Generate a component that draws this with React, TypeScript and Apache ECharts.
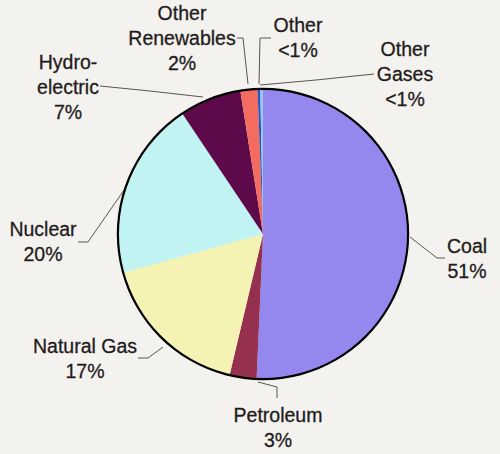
import React, { useEffect, useRef } from "react";
import * as echarts from "echarts";

// ---- data ----
const categories = [
  "Coal",
  "Petroleum",
  "Natural Gas",
  "Nuclear",
  "Hydro-\nelectric",
  "Other\nRenewables",
  "Other",
  "Other\nGases",
];
const shares = [50.7, 3.0, 17.0, 19.9, 6.9, 1.9, 0.3, 0.3];
const shareLabels = ["51%", "3%", "17%", "20%", "7%", "2%", "<1%", "<1%"];

// ---- styles / layout ----
const colors = [
  "#9487EE",
  "#96304F",
  "#F5F3B3",
  "#C0F3F1",
  "#5E0A4A",
  "#F46B5F",
  "#2456B8",
  "#9EC3F0",
];
const CENTER = [263, 234];
const R = 145;
const labelCenters = [
  [467, 258],
  [278, 427],
  [85, 358],
  [43, 241],
  [68, 87],
  [182, 38],
  [298, 37],
  [405, 74],
];
const linePoints = [
  [[410, 237], [437, 258], [445, 258]],
  [[258, 382], [277, 387], [277, 398]],
  [[163, 347], [148, 358], [138, 358]],
  [[124, 190], [88, 242], [78, 242]],
  [[203, 97], [150, 91], [100, 86]],
  [[248, 84], [243, 38], [237, 38]],
  [[259, 84], [260, 38], [271, 38]],
  [[260, 85], [316, 80], [374, 74]],
];

export default function App() {
  const ref = useRef<HTMLDivElement>(null);
  useEffect(() => {
    document.body.style.margin = "0";
    const chart = echarts.init(ref.current!, null, { renderer: "svg" });
    chart.setOption({
      animation: false,
      backgroundColor: "#F4F2EF",
      series: [
        {
          type: "pie",
          center: CENTER,
          radius: R,
          startAngle: 90,
          clockwise: true,
          avoidLabelOverlap: false,
          data: categories.map((c, i) => ({
            name: c,
            value: shares[i],
            itemStyle: { color: colors[i] },
          })),
          itemStyle: { borderWidth: 0 },
          label: {
            show: true,
            position: "outer",
            alignTo: "none",
            formatter: (p: any) => `${p.name}\n${shareLabels[p.dataIndex]}`,
            fontFamily: "Arial, 'Liberation Sans', sans-serif",
            fontSize: 19.5,
            lineHeight: 25,
            color: "#1F1C1B",
            textBorderColor: "#1F1C1B",
            textBorderWidth: 0.3,
            align: "center",
          },
          labelLine: {
            show: true,
            length: 10,
            length2: 10,
            lineStyle: { color: "#5A5450", width: 1 },
          },
          labelLayout: (params: any) => {
            const i = params.dataIndex;
            return {
              x: labelCenters[i][0],
              y: labelCenters[i][1],
              align: "center",
              verticalAlign: "middle",
              labelLinePoints: linePoints[i],
            };
          },
          emphasis: { disabled: true },
        },
        {
          type: "pie",
          center: CENTER,
          radius: [R - 1, R + 1.2],
          silent: true,
          z: 5,
          data: [{ value: 1, name: "border" }],
          itemStyle: { color: "#000000", borderWidth: 0 },
          label: { show: false },
          labelLine: { show: false },
          emphasis: { disabled: true },
        },
      ],
    });
    return () => chart.dispose();
  }, []);
  return <div ref={ref} style={{ width: 500, height: 454 }} />;
}
